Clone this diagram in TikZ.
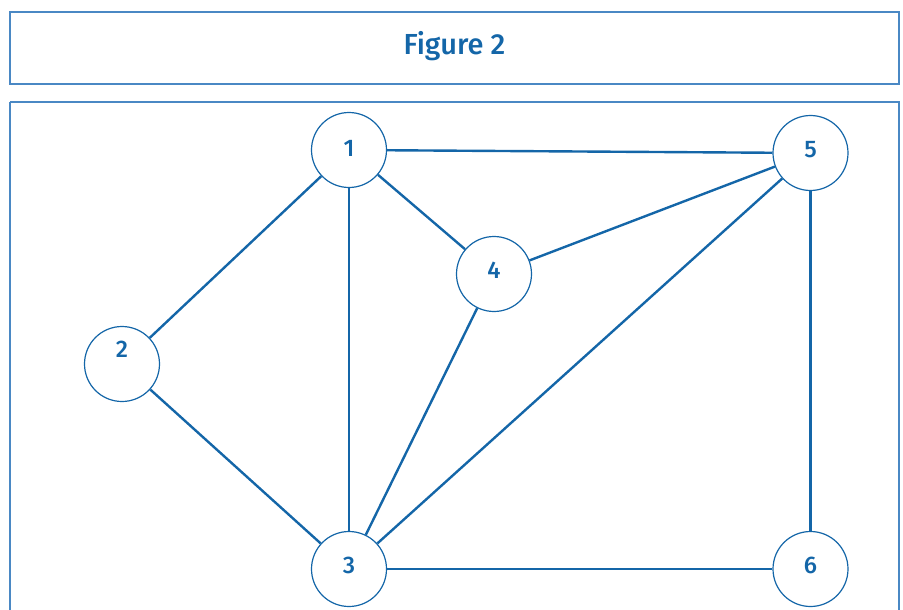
\documentclass[tikz,border=0pt]{standalone}
\usepackage{fontspec}
\setmainfont{Fira Sans}[BoldFont={Fira Sans Medium}]
\definecolor{boxblue}{HTML}{4A88C4}
\definecolor{linkblue}{HTML}{1466A8}
\begin{document}
\begin{tikzpicture}[x=1pt,y=-1pt,
  frame/.style={draw=boxblue,line width=2.8pt},
  vert/.style={circle,draw=linkblue,line width=1.2pt,fill=white,minimum size=75pt,inner sep=0pt},
  lab/.style={text=linkblue,font=\bfseries\fontsize{24}{24}\selectfont},
  edge/.style={draw=linkblue,line width=2.4pt}]
\useasboundingbox (0,0) rectangle (903,610);
\draw[frame] (10,12) rectangle (899,84);
\node[text=linkblue,font=\bfseries\fontsize{29}{29}\selectfont] (title) at (454.5,46) {Figure 2};
\draw[frame] (10,102) -- (10,640) (10,102) -- (899,102) -- (899,640);
\coordinate (c1) at (349,150);
\coordinate (c2) at (122,364);
\coordinate (c3) at (349,569);
\coordinate (c4) at (494,274);
\coordinate (c5) at (810.5,153);
\coordinate (c6) at (810.5,569);
\foreach \i in {1,...,6} { \node[vert] (n\i) at (c\i) {}; }
\foreach \a/\b in {1/5,1/2,1/3,1/4,4/5,4/3,5/3,5/6,2/3,3/6} { \draw[edge] (n\a) -- (n\b); }
\node[lab] (l1) at (349,148) {1};
\node[lab] (l2) at (122,349) {2};
\node[lab] (l3) at (349,565) {3};
\node[lab] (l4) at (494,270) {4};
\node[lab] (l5) at (810.5,150) {5};
\node[lab] (l6) at (810.5,565) {6};
\end{tikzpicture}
\end{document}
